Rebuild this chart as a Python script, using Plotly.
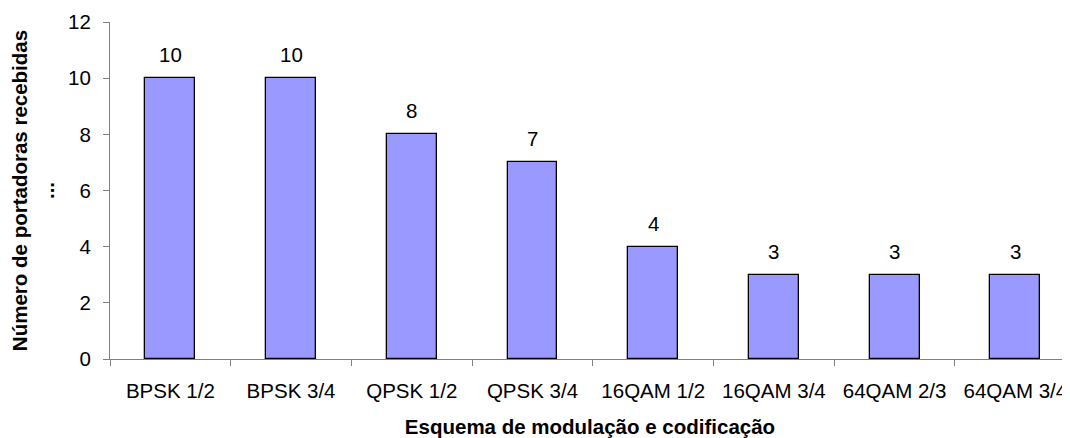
import plotly.graph_objects as go

categories = ["BPSK 1/2", "BPSK 3/4", "QPSK 1/2", "QPSK 3/4",
              "16QAM 1/2", "16QAM 3/4", "64QAM 2/3", "64QAM 3/4"]
values = [10, 10, 8, 7, 4, 3, 3, 3]
y_ticks = [0, 2, 4, 6, 8, 10, 12]

FONT = "Liberation Sans, Arial, sans-serif"
FS = 20.5
AXIS_COLOR = "#808080"

fig = go.Figure()
fig.add_trace(go.Bar(
    x=categories, y=values, width=0.414,
    marker=dict(color="#9999FF", line=dict(color="#000000", width=1.3)),
    showlegend=False, hoverinfo="skip",
))

for c, v in zip(categories, values):
    fig.add_annotation(x=c, y=v, text=str(v), showarrow=False,
                       yanchor="bottom", yshift=10,
                       font=dict(family=FONT, size=FS, color="#000000"))

# page body has an 8px margin, so the figure is sized/offset to fill the 1070x438 window
fig.update_layout(
    width=1062, height=430,
    margin=dict(l=102, r=0, t=14, b=79, autoexpand=False),
    paper_bgcolor="white", plot_bgcolor="white",
    font=dict(family=FONT, size=FS, color="#000000"),
    bargap=0,
)
fig.update_xaxes(
    type="category", range=[-0.5, 7.453],
    showline=True, linecolor=AXIS_COLOR, linewidth=1.2,
    ticks="outside", tickson="boundaries", ticklen=6, tickcolor=AXIS_COLOR, tickwidth=1.2,
    tickfont=dict(family=FONT, size=FS, color="#000000"),
    ticklabelstandoff=13,
    showgrid=False, zeroline=False,
    title=dict(text="<b>Esquema de modulação e codificação</b>", standoff=20,
               font=dict(family=FONT, size=FS, color="#000000")),
)
fig.update_yaxes(
    range=[0, 12], tickvals=y_ticks, ticktext=[str(t) for t in y_ticks],
    showline=True, linecolor=AXIS_COLOR, linewidth=1.2,
    ticks="outside", ticklen=6, tickcolor=AXIS_COLOR, tickwidth=1.2,
    tickfont=dict(family=FONT, size=FS, color="#000000"),
    ticklabelstandoff=8,
    showgrid=False, zeroline=False,
    title=dict(text="<b>Número de portadoras recebidas<br>...</b>", standoff=14,
               font=dict(family=FONT, size=FS, color="#000000")),
)

fig.write_html("out.html")
